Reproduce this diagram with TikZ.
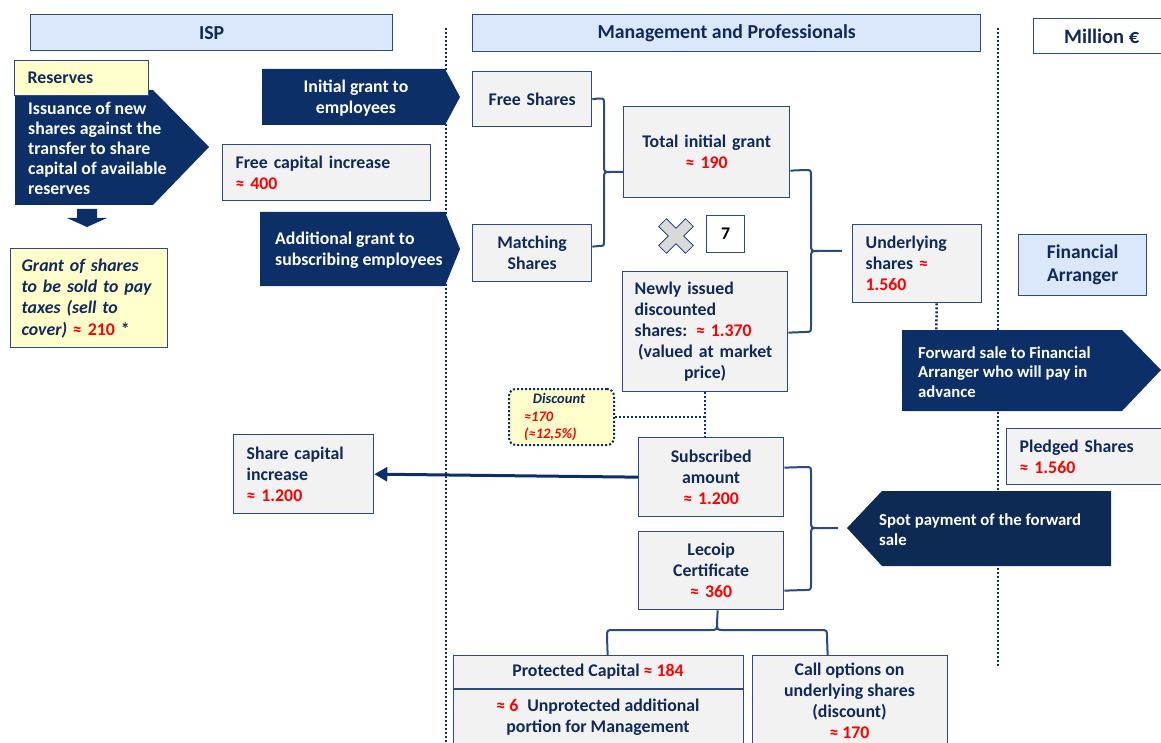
\documentclass[tikz,border=0pt]{standalone}
\usepackage{fontspec}
\setmainfont{Carlito}
\usetikzlibrary{arrows.meta}
\definecolor{navy}{HTML}{0B2F66}
\definecolor{navyd}{HTML}{0D2A55}
\definecolor{txt}{HTML}{10295A}
\definecolor{bord}{HTML}{2C4A7E}
\definecolor{grayf}{HTML}{F2F2F2}
\definecolor{bluef}{HTML}{DBE8FB}
\definecolor{yel}{HTML}{FFFFCC}
\definecolor{rd}{HTML}{FF0000}
\definecolor{crossf}{HTML}{D9D9D9}
\newcommand{\rr}[1]{{\color{rd}#1}}
\begin{document}
\begin{tikzpicture}[x=1pt,y=-1pt,
 base/.style={font=\fontsize{17.8}{21}\selectfont\bfseries, text=txt, inner ysep=0pt},
 box/.style={base, draw=bord, line width=1.3pt, fill=grayf, anchor=north west},
 lbox/.style={box, align=left, inner xsep=13pt},
 cbox/.style={box, align=center, inner xsep=4pt},
 hdr/.style={cbox, fill=bluef, font=\fontsize{19.8}{23}\selectfont\bfseries},
 ybox/.style={lbox, fill=yel},
 arr/.style={fill=navy},
 atext/.style={base, text=white, align=left, inner sep=0pt},
 brace/.style={draw=bord, line width=2pt},
 dotl/.style={draw=navy, line width=2.5pt, dash pattern=on 2pt off 2pt},
]
\path[use as bounding box, clip] (0,0) rectangle (1161,743);
\fill[white] (0,0) rectangle (1161,743);

% headers
\node[hdr, minimum width=362pt, minimum height=36pt] (isp) at (30,14) {ISP};
\node[hdr, minimum width=508pt, minimum height=37pt] (mp) at (472,14) {Management and Professionals};
\node[hdr, fill=white, minimum width=136pt, minimum height=35pt, font=\fontsize{20.5}{23}\selectfont\bfseries] (mil) at (1033,18) {Million €};

% dotted dividers
\coordinate (d1t) at (446,28); \coordinate (d1b) at (446,743);
\coordinate (d2t) at (998,28); \coordinate (d2b) at (998,668);
\draw[dotl] (d1t) -- (d1b);
\draw[dotl] (d2t) -- (d2b);

% ISP column
\fill[arr] (15,90) -- (153,90) -- (209,147) -- (153,205) -- (15,205) -- cycle;
\node[atext, anchor=west, font=\fontsize{17.8}{20}\selectfont\bfseries] (iss) at (28,148) {Issuance of new\\shares against the\\transfer to share\\capital of available\\reserves};
\node[ybox, minimum width=134pt, minimum height=35pt, text width=108pt] (res) at (14,60) {Reserves};
\fill[arr] (77,209) -- (97,209) -- (97,218) -- (107,218) -- (87,227) -- (67,218) -- (77,218) -- cycle;
\node[ybox, minimum width=157pt, minimum height=99pt, text width=135pt, inner xsep=11pt, font=\fontsize{17.8}{21.3}\selectfont\bfseries\itshape] (gr) at (10,248) {Grant of shares\\to be sold to pay\\taxes (sell to\\cover) {\upshape\rr{≈ 210} *}};

\fill[arr] (262,69) -- (445,69) -- (460,97) -- (445,125) -- (262,125) -- cycle;
\node[atext, align=center] (ig) at (356,98) {Initial grant to\\employees};
\node[lbox, minimum width=208pt, minimum height=56pt, text width=182pt] (fci) at (222,144) {Free capital increase\\\rr{≈ 400}};
\fill[arr] (260,212) -- (445,212) -- (460,249) -- (445,286) -- (260,286) -- cycle;
\node[atext, anchor=west] (ag) at (275,250) {Additional grant to\\subscribing employees};

\node[lbox, minimum width=140pt, minimum height=79pt, text width=114pt] (sci) at (233,434) {Share capital\\increase\\\rr{≈ 1.200}};

% Management column
\node[cbox, minimum width=119pt, minimum height=55pt, text width=111pt] (fs) at (472,71) {Free Shares};
\node[cbox, minimum width=119pt, minimum height=57pt, text width=111pt] (ms) at (472,224) {Matching\\Shares};
\node[cbox, minimum width=166pt, minimum height=91pt, text width=158pt] (tig) at (623,106) {Total initial grant\\\rr{≈ 190}};

\begin{scope}[shift={(676,236)}, rotate=45]
\draw[fill=crossf, draw=bord, line width=0.8pt] (-19,-5.5) -- (-5.5,-5.5) -- (-5.5,-19) -- (5.5,-19) -- (5.5,-5.5) -- (19,-5.5) -- (19,5.5) -- (5.5,5.5) -- (5.5,19) -- (-5.5,19) -- (-5.5,5.5) -- (-19,5.5) -- cycle;
\end{scope}
\node[cbox, fill=white, text=black, minimum width=38pt, minimum height=37pt, text width=30pt] (seven) at (706,215) {7};

\node[lbox, minimum width=165pt, minimum height=120pt, text width=141pt, inner xsep=12pt] (ni) at (622,271) {Newly issued\\discounted\\shares: \rr{≈ 1.370}\\\makebox[\linewidth]{(valued at market}\\\makebox[\linewidth]{price)}};

\node[box, rounded corners=7pt, fill=yel, draw=navy, line width=2pt, dash pattern=on 2pt off 2pt, minimum width=105pt, minimum height=56pt, text width=75pt, inner xsep=15pt, align=left, font=\fontsize{14.5}{17.5}\selectfont\bfseries\itshape] (disc) at (508,388) {\makebox[70pt]{Discount}\\\rr{≈170}\\\rr{(≈12,5\%)}};

\node[cbox, minimum width=145pt, minimum height=79pt, text width=137pt] (sa) at (638,437) {Subscribed\\amount\\\rr{≈ 1.200}};
\node[cbox, minimum width=145pt, minimum height=78pt, text width=137pt] (lc) at (638,531) {Lecoip\\Certificate\\\rr{≈ 360}};

\node[box, minimum width=290pt, minimum height=110pt] (pc) at (453,655) {};
\draw[draw=bord, line width=1.3pt] (pc.north west |- 0,689) -- (pc.north east |- 0,689);
\node[base] (pct) at (598,672) {Protected Capital \rr{≈ 184}};
\node[base, align=center] (pcu) at (598,717) {\rr{≈ 6}\enspace Unprotected additional\\portion for Management};

\node[box, minimum width=195pt, minimum height=110pt] (cb) at (752,655) {};
\node[base, align=center] (cbt) at (849.5,701) {Call options on\\underlying shares\\(discount)\\\rr{≈ 170}};

% right part
\node[lbox, minimum width=129pt, minimum height=78pt, text width=103pt] (us) at (852,224) {Underlying\\shares \rr{≈}\\\rr{1.560}};
\node[cbox, fill=bluef, minimum width=128pt, minimum height=61pt, text width=120pt, font=\fontsize{19.5}{23}\selectfont\bfseries] (fa) at (1018,234) {Financial\\Arranger};

\coordinate (fwtop) at (936,368);
\draw[dotl] ([xshift=19.5pt]us.south) -- (fwtop);
\fill[arr] (902,330) -- (1122,330) -- (1161,370) -- (1122,411) -- (902,411) -- cycle;
\node[atext, anchor=west, font=\fontsize{16.7}{19.5}\selectfont\bfseries] (fw) at (918,372) {Forward sale to Financial\\Arranger who will pay in\\advance};

\node[lbox, minimum width=160pt, minimum height=56pt, text width=134pt] (pl) at (1006,428) {Pledged Shares\\\rr{≈ 1.560}};

\fill[navyd] (847,528) -- (882,491) -- (1111,491) -- (1111,566) -- (882,566) -- cycle;
\node[atext, anchor=west, font=\fontsize{16.8}{20}\selectfont\bfseries] (sp) at (879,530) {Spot payment of the forward\\sale};

% connectors
\draw[line width=3pt, navy, -{Triangle[length=13pt,width=14pt]}] (sa.west) -- (sci.east);
\draw[dotl] (ni.south) -- (ni.south |- sa.north);
\draw[dotl] (disc.east) -- (disc.east -| ni.south);

% braces
\draw[brace] (fs.east) -- (599,98.5) .. controls (604,98.5) .. (604,104) -- (604,165) .. controls (604,172) .. (611,172) -- (tig.west |- 0,172);
\draw[brace] ([yshift=6.5pt]ms.east) -- (599,246) .. controls (604,246) .. (604,240) -- (604,179) .. controls (604,172) .. (611,172);

\draw[brace] ([yshift=-18.5pt]tig.east) -- (805,170) .. controls (811,170) .. (811,176) -- (811,244) .. controls (811,251) .. (818,251) -- (842,251);
\draw[brace] ([yshift=-1pt]ni.east) -- (805,332) .. controls (811,332) .. (811,326) -- (811,258) .. controls (811,251) .. (818,251);

\draw[brace] ([yshift=9.5pt]sa.east) -- (805,467) .. controls (811,467) .. (811,473) -- (811,521) .. controls (811,528) .. (818,528) -- (838,528);
\draw[brace] ([yshift=-20pt]lc.east) -- (805,590) .. controls (811,590) .. (811,584) -- (811,535) .. controls (811,528) .. (818,528);

\draw[brace] ([xshift=9pt]pc.north) -- (607,637) .. controls (607,630) .. (614,630) -- (710,630) .. controls (717,630) .. (717,623) -- ([xshift=6.5pt]lc.south);
\draw[brace] ([xshift=-22.5pt]cb.north) -- (827,637) .. controls (827,630) .. (820,630) -- (724,630) .. controls (717,630) .. (717,623);
\end{tikzpicture}
\end{document}
